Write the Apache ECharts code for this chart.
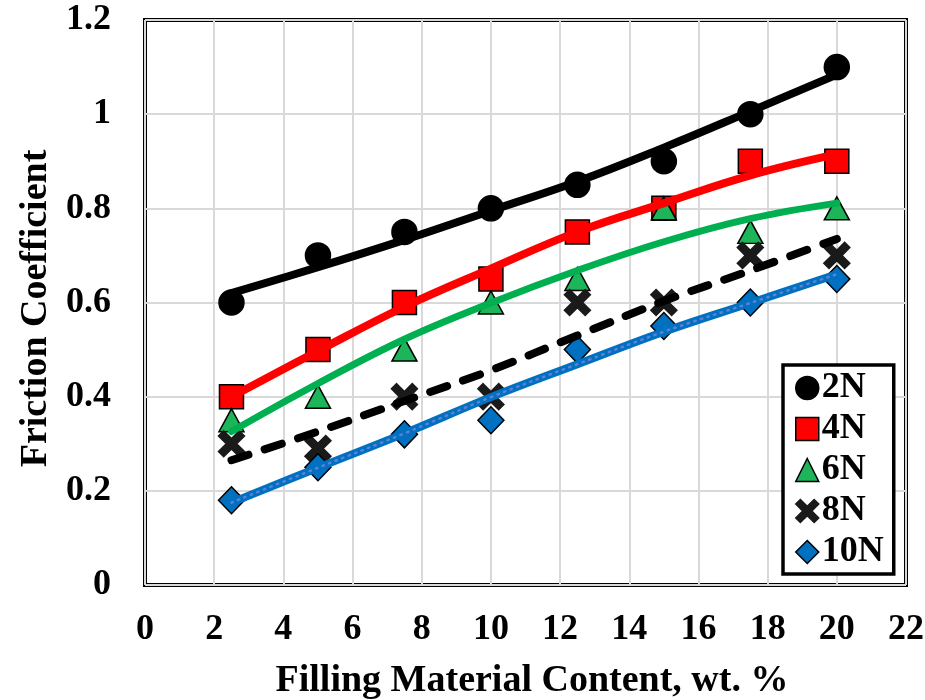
<!DOCTYPE html>
<html>
<head>
<meta charset="utf-8">
<script src="https://cdn.jsdelivr.net/npm/echarts@6/dist/echarts.min.js"></script>
<style>
  html, body { margin: 0; padding: 0; background: #fff; }
  #chart { width: 925px; height: 700px; }
</style>
</head>
<body>
<div id="chart"></div>
<script>
// Filler content (wt. %) at which friction was measured
const content = [2.5, 5, 7.5, 10, 12.5, 15, 17.5, 20];

// Measured friction coefficient for each normal load
const load2N  = [0.60, 0.70, 0.75, 0.80, 0.85, 0.90, 1.00, 1.10];
const load4N  = [0.40, 0.50, 0.60, 0.65, 0.75, 0.80, 0.90, 0.90];
const load6N  = [0.35, 0.40, 0.50, 0.60, 0.65, 0.80, 0.75, 0.80];
const load8N  = [0.30, 0.29, 0.40, 0.40, 0.60, 0.60, 0.70, 0.70];
const load10N = [0.18, 0.25, 0.32, 0.35, 0.50, 0.55, 0.60, 0.65];

// Trend curves drawn through each data set
const trend2N  = [0.620, 0.675, 0.733, 0.795, 0.857, 0.929, 1.006, 1.084];
const trend4N  = [0.400, 0.497, 0.591, 0.672, 0.750, 0.811, 0.870, 0.915];
const trend6N  = [0.326, 0.428, 0.522, 0.599, 0.668, 0.729, 0.778, 0.811];
const trend8N  = [0.265, 0.326, 0.391, 0.456, 0.530, 0.603, 0.668, 0.735];
const trend10N = [0.175, 0.249, 0.322, 0.399, 0.469, 0.538, 0.599, 0.660];

const seriesNames = ['2N', '4N', '6N', '8N', '10N'];
const xTicks = { min: 0, max: 22, step: 2 };
const yTicks = { min: 0, max: 1.2, step: 0.2 };

const FONT = '"Liberation Serif", "Times New Roman", serif';
const CROSS = 'path://M20,0 L50,30 L80,0 L100,20 L70,50 L100,80 L80,100 L50,70 L20,100 L0,80 L30,50 L0,20 Z';

const pairs = ys => content.map((x, i) => [x, ys[i]]);

const markerStyles = [
  { symbol: 'circle',   size: 25,       color: '#000000', border: '#000000' },
  { symbol: 'rect',     size: 24,       color: '#FF0000', border: '#000000' },
  { symbol: 'triangle', size: [25, 23], color: '#1DB45A', border: '#000000' },
  { symbol: CROSS,      size: 26,       color: '#1A1A1A', border: '#1A1A1A' },
  { symbol: 'diamond',  size: [26, 27], color: '#0070C0', border: '#000000' }
];
const measured = [load2N, load4N, load6N, load8N, load10N];

const scatterSeries = seriesNames.map((name, i) => ({
  name,
  type: 'scatter',
  data: pairs(measured[i]),
  symbol: markerStyles[i].symbol,
  symbolSize: markerStyles[i].size,
  itemStyle: { color: markerStyles[i].color, borderColor: markerStyles[i].border, borderWidth: 1.5, opacity: 1 },
  z: 3
}));

const trendLine = (name, ys, color, width, type) => ({
  name,
  type: 'line',
  data: pairs(ys),
  smooth: 0.4,
  showSymbol: false,
  symbol: 'none',
  lineStyle: { color, width, type: type || 'solid', cap: 'round', join: 'round' },
  z: 4
});

const lineSeries = [
  trendLine('2N trend', trend2N, '#000000', 8),
  trendLine('4N trend', trend4N, '#FF0000', 8),
  trendLine('6N trend', trend6N, '#00B050', 7),
  trendLine('8N trend', trend8N, '#000000', 8, [18, 17]),
  trendLine('10N trend', trend10N, '#0070C0', 8),
  // light dotted pattern running along the 10N curve
  trendLine('10N trend dots', trend10N, '#5F7FD6', 2.5, [1.5, 5.5])
];

const chart = echarts.init(document.getElementById('chart'), null, { renderer: 'canvas' });
chart.setOption({
  animation: false,
  backgroundColor: '#ffffff',
  grid: {
    left: 145, right: 19, top: 20, bottom: 115,
    outerBoundsMode: 'none',
    containLabel: false,
    show: true, borderColor: '#000000', borderWidth: 4, backgroundColor: 'transparent'
  },
  xAxis: {
    type: 'value',
    min: xTicks.min, max: xTicks.max, interval: xTicks.step,
    name: 'Filling Material Content, wt. %',
    nameLocation: 'middle',
    nameGap: 77,
    nameTextStyle: { fontFamily: FONT, fontWeight: 'bold', fontSize: 38, color: '#000', lineHeight: 38, padding: [0, 0, 0, 13] },
    axisLine: { show: false },
    axisTick: { show: false },
    axisLabel: { fontFamily: FONT, fontWeight: 'bold', fontSize: 36, color: '#000', margin: 27 },
    splitLine: { show: true, lineStyle: { color: '#D9D9D9', width: 2 } }
  },
  yAxis: {
    type: 'value',
    min: yTicks.min, max: yTicks.max, interval: yTicks.step,
    name: 'Friction Coefficient',
    nameLocation: 'middle',
    nameGap: 88,
    nameTextStyle: { fontFamily: FONT, fontWeight: 'bold', fontSize: 38, color: '#000', lineHeight: 38, padding: [0, 12, 0, 0] },
    axisLine: { show: false },
    axisTick: { show: false },
    axisLabel: {
      fontFamily: FONT, fontWeight: 'bold', fontSize: 36, color: '#000', margin: 34,
      formatter: v => String(+v.toFixed(1))
    },
    splitLine: { show: true, lineStyle: { color: '#D9D9D9', width: 2 } }
  },
  legend: {
    orient: 'vertical',
    left: 783, top: 365,
    backgroundColor: '#ffffff',
    borderColor: '#000000', borderWidth: 3.5, borderRadius: 0,
    padding: [5, 10, 4, 12],
    itemGap: 5,
    itemWidth: 23, itemHeight: 23,
    textStyle: { fontFamily: FONT, fontWeight: 'bold', fontSize: 36, lineHeight: 35, color: '#000', padding: [0, 0, 0, -2] },
    data: seriesNames.map((name, i) => ({
      name,
      icon: markerStyles[i].symbol,
      itemStyle: { color: markerStyles[i].color, borderColor: markerStyles[i].border, borderWidth: 1.5 }
    }))
  },
  series: scatterSeries.concat(lineSeries)
});
</script>
</body>
</html>
